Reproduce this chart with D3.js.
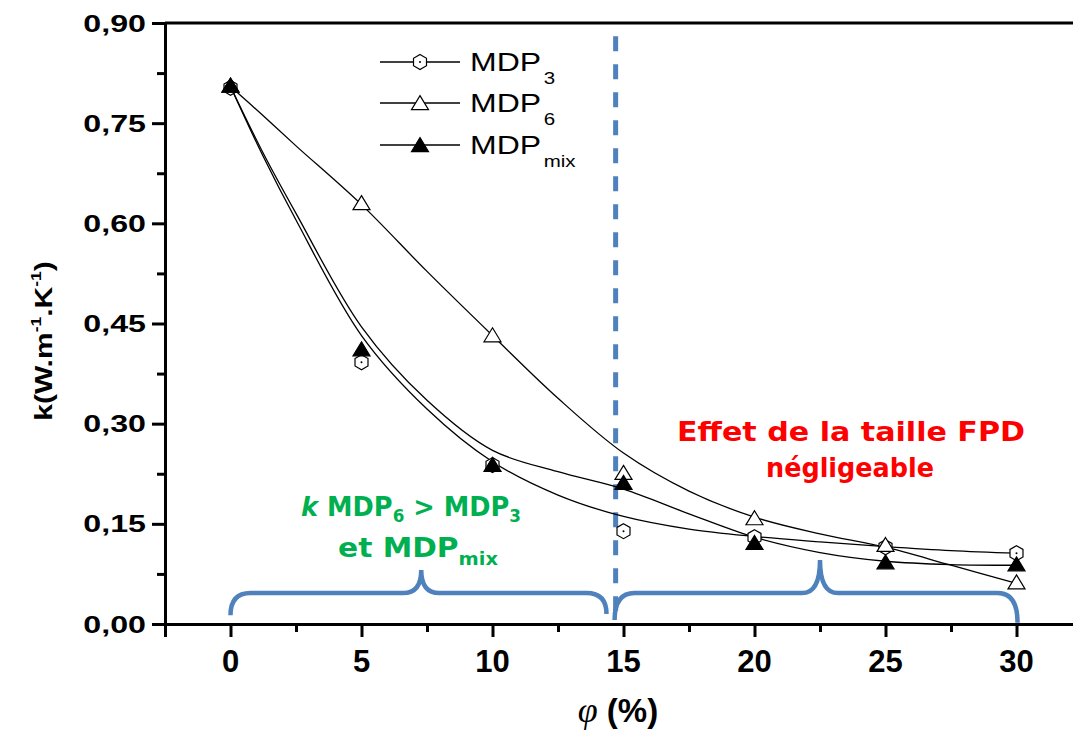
<!DOCTYPE html>
<html><head><meta charset="utf-8">
<script src="https://cdn.jsdelivr.net/npm/d3@7"></script>
<style>body{margin:0;background:#fff} svg{display:block}</style>
</head><body>
<svg id="c" width="1073" height="731"></svg>
<script>
// ---- data ----
const phi = [0, 5, 10, 15, 20, 25, 30];
const mdp3 = [0.803, 0.392, 0.238, 0.139, 0.130, 0.115, 0.106];
const mdp6 = [0.805, 0.629, 0.431, 0.225, 0.157, 0.117, 0.061];
const mdpMix = [0.805, 0.410, 0.237, 0.210, 0.120, 0.091, 0.088];
// fitted curves
const fitPhi = [0, 1.25, 2.5, 5, 7.5, 10, 12.5, 15, 17.5, 20, 22.5, 25, 27.5, 30];
const fit3 = [0.805, 0.700, 0.605, 0.432, 0.322, 0.243, 0.193, 0.161, 0.142, 0.131, 0.123, 0.116, 0.110, 0.106];
const fit6 = [0.805, 0.761, 0.716, 0.628, 0.528, 0.432, 0.338, 0.256, 0.199, 0.160, 0.135, 0.115, 0.088, 0.061];
const fitMix = [0.805, 0.705, 0.615, 0.445, 0.335, 0.260, 0.228, 0.202, 0.165, 0.130, 0.107, 0.094, 0.089, 0.088];
const xTicks = [0, 5, 10, 15, 20, 25, 30];
const xMinor = [-2.5, 2.5, 7.5, 12.5, 17.5, 22.5, 27.5, 32.5];
const yTicks = [0, 0.15, 0.30, 0.45, 0.60, 0.75, 0.90];
const yMinor = [0.075, 0.225, 0.375, 0.525, 0.675, 0.825];
const seriesNames = ["3", "6", "mix"];
const boundaryPhi = 14.7;

const svg = d3.select("#c");
const W = 1073, H = 731;
const x = d3.scaleLinear().domain([-2.5, 32.5]).range([165, 1082]);
const y = d3.scaleLinear().domain([0, 0.9]).range([624, 23]);
const BLUE = "#4f81bd", GREEN = "#00b050", RED = "#ff0000";

// ---- axes ----
const ax = svg.append("g");
ax.append("line").attr("x1", x(-2.5)).attr("x2", W).attr("y1", y(0.9)).attr("y2", y(0.9))
  .attr("stroke", "#000").attr("stroke-width", 3);
ax.append("g").attr("transform", `translate(${x(-2.5)},0)`)
  .call(d3.axisLeft(y).tickValues(yTicks).tickSize(13).tickFormat(""));
const yAxM = ax.append("g").attr("transform", `translate(${x(-2.5)},0)`)
  .call(d3.axisLeft(y).tickValues(yMinor).tickSize(8).tickFormat(""));
yAxM.select(".domain").remove();
ax.append("g").attr("transform", `translate(0,${y(0)})`)
  .call(d3.axisBottom(x).tickValues(xTicks).tickSize(13).tickFormat(""));
const xAxM = ax.append("g").attr("transform", `translate(0,${y(0)})`)
  .call(d3.axisBottom(x).tickValues(xMinor).tickSize(8).tickFormat(""));
xAxM.select(".domain").remove();
ax.selectAll(".domain").attr("stroke-width", 3).attr("stroke", "#000");
ax.selectAll(".tick line").attr("stroke-width", 3).attr("stroke", "#000");

function sText(g, px, py, sx, anchor) {
  return g.append("text").attr("transform", `translate(${px},${py}) scale(${sx},1)`)
    .attr("text-anchor", anchor);
}
const fmt = v => d3.format(".2f")(v).replace(".", ",");
yTicks.forEach(v => {
  sText(svg, x(-2.5) - 19, y(v) + 8.5, 1.4, "end")
    .attr("font-family", "Liberation Sans, Arial, sans-serif").attr("font-weight", "bold")
    .attr("font-size", 23).text(fmt(v));
});
xTicks.forEach(v => {
  svg.append("text").attr("x", x(v)).attr("y", y(0) + 48).attr("text-anchor", "middle")
    .attr("font-family", "Liberation Sans Narrow, Liberation Sans, Arial, sans-serif").attr("font-weight", "bold")
    .attr("font-size", 31).text(v);
});
// x title
const xt = svg.append("text").attr("x", 618).attr("y", 722).attr("text-anchor", "middle")
  .attr("font-family", "Liberation Sans, Arial, sans-serif").attr("font-size", 33);
xt.append("tspan").attr("font-family", "Liberation Serif, Times New Roman, serif").attr("font-style", "italic").attr("font-size", 36).text("φ");
xt.append("tspan").attr("font-weight", "bold").text(" (%)");
// y title
const yt = svg.append("text").attr("transform", "translate(52,341) rotate(-90) scale(1.25,1)")
  .attr("text-anchor", "middle").attr("font-family", "Liberation Sans, Arial, sans-serif")
  .attr("font-weight", "bold").attr("font-size", 24);
yt.append("tspan").text("k(W.m");
yt.append("tspan").attr("font-size", 14).attr("dy", -11).text("-1");
yt.append("tspan").attr("dy", 11).text(".K");
yt.append("tspan").attr("font-size", 14).attr("dy", -11).text("-1");
yt.append("tspan").attr("dy", 11).text(")");

// ---- annotations: dashed boundary and braces ----
svg.append("line").attr("x1", x(boundaryPhi)).attr("x2", x(boundaryPhi))
  .attr("y1", y(0.88)).attr("y2", y(0.02))
  .attr("stroke", BLUE).attr("stroke-width", 5).attr("stroke-dasharray", "15,13");

function brace(x0, x1, xm, yb, yp, ye0, ye1) {
  const p = d3.path();
  const r = 20, r2 = 18;
  p.moveTo(x0, ye0);
  p.quadraticCurveTo(x0, yb, x0 + r, yb);
  p.lineTo(xm - r2, yb);
  p.quadraticCurveTo(xm, yb, xm, yp);
  p.quadraticCurveTo(xm, yb, xm + r2, yb);
  p.lineTo(x1 - r, yb);
  p.quadraticCurveTo(x1, yb, x1, ye1);
  return p.toString();
}
svg.append("path").attr("d", brace(x(0), x(14.35), x(7.28), y(0.0464), y(0.081), y(0.013), y(0.015)))
  .attr("fill", "none").attr("stroke", BLUE).attr("stroke-width", 4.5);
svg.append("path").attr("d", brace(x(14.66), x(30.04), x(22.5), y(0.0464), y(0.096), y(0.006), y(0.002)))
  .attr("fill", "none").attr("stroke", BLUE).attr("stroke-width", 4.5);

// ---- curves ----
const line = d3.line().x(d => x(d[0])).y(d => y(d[1])).curve(d3.curveCatmullRom.alpha(0.5));
[fit3, fit6, fitMix].forEach(f => {
  svg.append("path").attr("d", line(fitPhi.map((p, i) => [p, f[i]])))
    .attr("fill", "none").attr("stroke", "#000").attr("stroke-width", 1.3);
});

// ---- markers ----
function hexPath(r) {
  const pts = d3.range(6).map(i => {
    const a = -Math.PI / 2 + i * Math.PI / 3;
    return [r * Math.cos(a), r * Math.sin(a)];
  });
  return "M" + pts.map(p => p.join(",")).join("L") + "Z";
}
function triPath(w, h) {
  return `M0,${-h * 0.6}L${w / 2},${h * 0.4}L${-w / 2},${h * 0.4}Z`;
}
function drawMarker(g, kind, cx, cy) {
  const m = g.append("g").attr("transform", `translate(${cx},${cy})`);
  if (kind === "3") {
    m.append("path").attr("d", hexPath(7.5)).attr("fill", "#fff").attr("stroke", "#000").attr("stroke-width", 1.2);
    m.append("circle").attr("r", 1).attr("fill", "#000");
  } else if (kind === "6") {
    m.append("path").attr("d", triPath(17, 14)).attr("fill", "#fff").attr("stroke", "#000").attr("stroke-width", 1.2);
  } else {
    m.append("path").attr("d", triPath(17, 14)).attr("fill", "#000").attr("stroke", "#000").attr("stroke-width", 1.2);
  }
}
const mk = svg.append("g");
phi.forEach((p, i) => drawMarker(mk, "3", x(p), y(mdp3[i])));
phi.forEach((p, i) => drawMarker(mk, "6", x(p), y(mdp6[i])));
phi.forEach((p, i) => drawMarker(mk, "mix", x(p), y(mdpMix[i])));

// ---- legend ----
const lg = svg.append("g");
const legY = [62, 103, 145];
seriesNames.forEach((s, i) => {
  lg.append("line").attr("x1", 380).attr("x2", 460).attr("y1", legY[i]).attr("y2", legY[i])
    .attr("stroke", "#000").attr("stroke-width", 1.3);
  drawMarker(lg, s, 420, legY[i] + (s === "3" ? 0 : 1));
  const t = sText(lg, 470, legY[i] + 9, 1.28, "start")
    .attr("font-family", "Liberation Sans, Arial, sans-serif").attr("font-size", 25);
  t.append("tspan").text("MDP");
  t.append("tspan").attr("font-size", 16).attr("dy", 13).attr("dx", 2).text(s);
});

// ---- text annotations ----
const ANN_FONT = "DejaVu Sans, Noto Sans, sans-serif";
const red = svg.append("g").attr("font-family", ANN_FONT).attr("font-weight", "bold")
  .attr("fill", RED).attr("font-size", 27).attr("text-anchor", "middle");
red.append("text").attr("x", 851).attr("y", 441).attr("textLength", 348).attr("lengthAdjust", "spacingAndGlyphs")
  .text("Effet de la taille FPD");
red.append("text").attr("x", 850).attr("y", 477).attr("textLength", 168).attr("lengthAdjust", "spacingAndGlyphs")
  .text("négligeable");

const green = svg.append("g").attr("font-family", ANN_FONT).attr("font-weight", "bold")
  .attr("fill", GREEN).attr("font-size", 26).attr("text-anchor", "middle");
const g1 = green.append("text").attr("x", 411).attr("y", 516)
  .attr("textLength", 220).attr("lengthAdjust", "spacingAndGlyphs");
g1.append("tspan").attr("font-style", "italic").text("k");
g1.append("tspan").text(" MDP");
g1.append("tspan").attr("font-size", 17).attr("dy", 6).text("6");
g1.append("tspan").attr("dy", -6).text(" > MDP");
g1.append("tspan").attr("font-size", 17).attr("dy", 6).text("3");
const g2 = green.append("text").attr("x", 418).attr("y", 557)
  .attr("textLength", 160).attr("lengthAdjust", "spacingAndGlyphs");
g2.append("tspan").text("et MDP");
g2.append("tspan").attr("font-size", 17).attr("dy", 8).text("mix");
</script>
</body></html>
